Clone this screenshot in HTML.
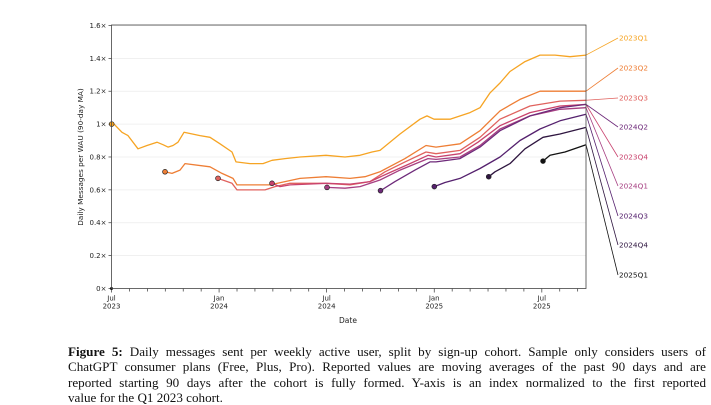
<!DOCTYPE html>
<html><head><meta charset="utf-8"><style>
html,body{margin:0;padding:0;background:#fff;width:711px;height:404px;overflow:hidden}
.cap{position:absolute;left:68px;top:344px;width:638px;font-family:"Liberation Serif",serif;font-size:13.1px;line-height:15.3px;color:#111}
.cap div{text-align:justify;text-align-last:justify;white-space:nowrap}
.cap div.last{text-align-last:left}
</style></head><body>
<svg id="s" width="711" height="404" style="position:absolute;left:0;top:0" font-family="DejaVu Sans, sans-serif"></svg>
<div class="cap">
<div style="white-space:normal"><b>Figure 5:</b> Daily messages sent per weekly active user, split by sign-up cohort. Sample only considers users of</div>
<div style="white-space:normal">ChatGPT consumer plans (Free, Plus, Pro). Reported values are moving averages of the past 90 days and are</div>
<div style="white-space:normal">reported starting 90 days after the cohort is fully formed. Y-axis is an index normalized to the first reported</div>
<div class="last">value for the Q1 2023 cohort.</div>
</div>
<script>
const L=111.5,R=586,T=25,B=288.5;
const Y=v=>B-v*164.4;
let h='';
for(let i=1;i<=8;i++){const y=Y(i*0.2);h+=`<line x1="${L}" x2="${R}" y1="${y}" y2="${y}" stroke="#ececec" stroke-width="0.8"/>`;}
for(let i=0;i<=8;i++){const y=Y(i*0.2);const t=i==0?'0×':(i==5?'1×':(i*0.2).toFixed(1)+'×');
h+=`<line x1="${L-3}" x2="${L}" y1="${y}" y2="${y}" stroke="#333" stroke-width="0.7"/><text x="${L-5}" y="${y+2.5}" font-size="7" text-anchor="end" fill="#222">${t}</text>`;}
for(let m=0;m<=26;m++){const x=L+m*17.93;if(x>R+1)break;const maj=m%6==0;
h+=`<line x1="${x}" x2="${x}" y1="${B}" y2="${B+(maj?4:3)}" stroke="#333" stroke-width="0.7"/>`;
if(maj){const lab=['Jul','Jan'][(m/6)%2];const yr=2023+Math.floor((m+6)/12);
h+=`<text x="${x}" y="${B+12}" font-size="7" text-anchor="middle" fill="#222">${lab}</text><text x="${x}" y="${B+20}" font-size="7" text-anchor="middle" fill="#222">${yr}</text>`;}}
h+=`<text x="348" y="323" font-size="7.5" text-anchor="middle" fill="#222">Date</text>`;
h+=`<text transform="translate(83,157) rotate(-90)" font-size="7.3" text-anchor="middle" fill="#222">Daily Messages per WAU (90-day MA)</text>`;
const S=[
['2023Q1','#f6a423',38,[[111.7,1.0],[114,1.0],[122,0.95],[128,0.93],[138,0.85],[147,0.87],[157,0.89],[163,0.875],[168,0.86],[173,0.87],[178,0.89],[184,0.95],[200,0.93],[210,0.92],[220,0.88],[232,0.83],[236,0.77],[250,0.76],[263,0.76],[272,0.78],[285,0.79],[300,0.80],[326,0.81],[345,0.80],[360,0.81],[372,0.83],[380,0.84],[400,0.94],[420,1.03],[427,1.05],[434,1.03],[450,1.03],[470,1.07],[480,1.10],[490,1.19],[500,1.25],[510,1.32],[525,1.38],[540,1.42],[555,1.42],[570,1.41],[586,1.42]]],
['2023Q2','#ee7e35',68,[[165,0.71],[172,0.70],[180,0.72],[185,0.76],[210,0.74],[222,0.70],[233,0.67],[237,0.63],[270,0.63],[285,0.65],[300,0.67],[326,0.68],[350,0.67],[365,0.68],[380,0.71],[405,0.79],[426,0.87],[436,0.86],[460,0.88],[480,0.96],[500,1.08],[520,1.15],[540,1.20],[586,1.20]]],
['2023Q3','#e0625e',98,[[218,0.67],[232,0.64],[237,0.60],[265,0.60],[275,0.62],[290,0.64],[326,0.64],[350,0.63],[370,0.65],[385,0.71],[405,0.77],[426,0.83],[436,0.82],[460,0.84],[480,0.92],[500,1.03],[530,1.11],[560,1.14],[586,1.145]]],
['2023Q4','#c9436e',157,[[272,0.64],[280,0.62],[290,0.63],[326,0.64],[350,0.635],[370,0.65],[388,0.70],[410,0.76],[428,0.81],[436,0.80],[460,0.82],[478,0.89],[500,0.99],[530,1.07],[560,1.11],[586,1.12]]],
['2024Q1','#a63f82',186,[[327,0.615],[345,0.61],[360,0.62],[380,0.66],[400,0.72],[420,0.77],[428,0.79],[436,0.785],[460,0.80],[480,0.87],[500,0.97],[530,1.05],[560,1.09],[586,1.10]]],
['2024Q2','#6e2a7a',127,[[380.5,0.595],[395,0.65],[415,0.72],[430,0.77],[436,0.77],[460,0.79],[480,0.86],[500,0.96],[530,1.05],[560,1.10],[586,1.12]]],
['2024Q3','#55216e',216,[[434.3,0.62],[445,0.645],[460,0.67],[480,0.73],[500,0.80],[520,0.90],[540,0.97],[560,1.02],[586,1.06]]],
['2024Q4','#2f1640',245,[[488.7,0.68],[495,0.71],[510,0.76],[525,0.85],[543,0.92],[560,0.94],[586,0.98]]],
['2025Q1','#111111',275,[[543,0.775],[550,0.81],[565,0.83],[586,0.875]]]];
for(const [n,c,ly,p] of S){
h+=`<polyline fill="none" stroke="${c}" stroke-width="1.3" stroke-linejoin="round" points="${p.map(q=>q[0]+','+Y(q[1]).toFixed(1)).join(' ')}"/>`;
const [x0,v0]=p[0];h+=`<circle cx="${x0}" cy="${Y(v0)}" r="2.4" fill="${c}" stroke="#222" stroke-width="0.7"/>`;
const e=p[p.length-1];h+=`<line x1="${R}" y1="${Y(e[1])}" x2="618" y2="${ly}" stroke="${c}" stroke-width="0.8"/>`;
h+=`<text x="619" y="${ly+2.5}" font-size="7.3" fill="${c}">${n}</text>`;}
h+=`<circle cx="${L}" cy="${B}" r="1.5" fill="#111"/>`;
h+=`<rect x="${L}" y="${T}" width="${R-L}" height="${B-T}" fill="none" stroke="#444" stroke-width="0.8"/>`;
document.getElementById('s').innerHTML=h;
</script>
</body></html>
